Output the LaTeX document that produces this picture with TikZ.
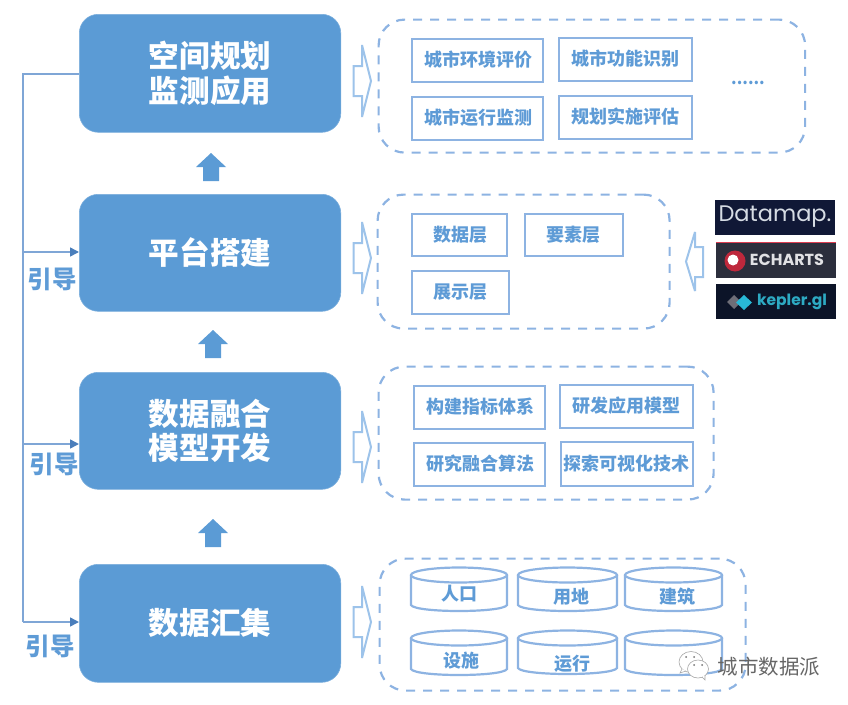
\documentclass[tikz,border=0pt]{standalone}
\usepackage{fontspec}
\setmainfont{Noto Sans CJK SC}
\newfontfamily\lat{Poppins}
\usetikzlibrary{arrows.meta}
\definecolor{mainblue}{HTML}{5B9BD5}
\definecolor{dashblue}{HTML}{8DB3E2}
\definecolor{boxblue}{HTML}{8DB3E2}
\definecolor{hollow}{HTML}{9DC3EA}
\definecolor{trunkblue}{HTML}{7FA6D6}
\definecolor{tipblue}{HTML}{4A7EBB}
\definecolor{textblue}{HTML}{5E9BD6}
\tikzset{
 mainbox/.style={fill=mainblue,draw=mainblue!80!white,line width=.6pt,rounded corners=19pt,text=white,font=\fontsize{30.6}{36}\selectfont\bfseries,align=center,anchor=north west,inner sep=0pt},
 group/.style={draw=dashblue,line width=2.2pt,dash pattern=on 9pt off 8pt,rounded corners=26pt,anchor=north west,inner sep=0pt,xshift=-.5pt,yshift=.5pt},
 item/.style={draw=boxblue,line width=2pt,text=textblue,font=\fontsize{18}{20}\selectfont\bfseries,anchor=north west,inner sep=0pt,align=center,xshift=-.5pt,yshift=.5pt},
 guide/.style={text=textblue,font=\fontsize{24.5}{26}\selectfont\bfseries,inner sep=0pt},
 upa/.style={fill=mainblue,draw=none},
 hol/.style={draw=hollow,line width=2pt,fill=white,line join=miter,miter limit=3},
 trunk/.style={draw=trunkblue,line width=1.5pt},
 lead/.style={draw=trunkblue,line width=1.5pt,-{Triangle[length=9pt,width=9pt,fill=tipblue,color=tipblue]}},
 cyl/.style={draw=boxblue,line width=2.2pt,fill=white},
 cyltext/.style={text=textblue,font=\fontsize{18}{20}\selectfont\bfseries,inner sep=0pt},
 bub/.style={draw=black!35,line width=.6pt,fill=white},
}
\newcommand{\upar}[2]{\fill[upa] (#1-15,#2+14) -- (#1,#2) -- (#1+15,#2+14) -- (#1+8,#2+14) -- (#1+8,#2+28) -- (#1-8,#2+28) -- (#1-8,#2+14) -- cycle;}
\newcommand{\rhol}[1]{\draw[hol] (353.5,#1-15) -- (362,#1-15) -- (362,#1-36) -- (371,#1) -- (362,#1+36) -- (362,#1+15) -- (353.5,#1+15) -- cycle;}
\newcommand{\mycyl}[5]{% x1 x2 y1 y2 name
 \draw[cyl] (#1,#3+8) -- (#1,#4-8) .. controls (#1+4,#4) and (#2-4,#4) .. (#2,#4-8) -- (#2,#3+8);
 \draw[cyl] ({(#1+#2)/2},#3+8) ellipse[x radius={(#2-#1)/2},y radius=7.5];
 \coordinate (#5) at ({(#1+#2)/2},#4);
}
\newcommand{\up}[2]{\raisebox{#1}{#2}}
\begin{document}
\begin{tikzpicture}[x=1pt,y=-1pt]
\useasboundingbox (0,0) rectangle (848,704);
% main boxes
\node[mainbox,minimum width=261.5pt,minimum height=118pt] (A) at (79,14) {空间规划\\[-1.5pt]监测应用};
\node[mainbox,minimum width=261.5pt,minimum height=117pt] (B) at (79,194) {平台搭建};
\node[mainbox,minimum width=261.5pt,minimum height=117pt] (C) at (79,372) {数据融合\\[-1.5pt]模型开发};
\node[mainbox,minimum width=261.5pt,minimum height=118pt] (D) at (79,564) {数据汇集};
% up arrows
\upar{211}{153}
\upar{213}{330}
\upar{213}{519}
% trunk
\coordinate (tt) at (23,74);
\coordinate (tb) at (23,252);
\coordinate (tc) at (23,444);
\coordinate (td) at (23,622);
\draw[trunk] (tt -| A.west) -- (tt) -- (td);
\draw[lead] (tb) -- (tb -| B.west);
\draw[lead] (tc) -- (tc -| C.west);
\draw[lead] (td) -- (td -| D.west);
\node[guide] (g1) at (52,279) {引导};
\node[guide] (g2) at (54,464) {引导};
\node[guide] (g3) at (50,646) {引导};
% groups
\node[group,minimum width=426.5pt,minimum height=133pt] (G1) at (378,19) {};
\node[group,minimum width=292pt,minimum height=134pt] (G2) at (377,194) {};
\node[group,minimum width=335pt,minimum height=133pt] (G3) at (378,366) {};
\node[group,minimum width=366pt,minimum height=132pt] (G4) at (379,558) {};
% hollow arrows
\rhol{81}
\rhol{258}
\rhol{447}
\rhol{622}
\draw[hol] (703,247) -- (695,247) -- (695,232) -- (686,261.5) -- (695,291) -- (695,277) -- (703,277) -- cycle;
% items
\node[item,minimum width=131pt,minimum height=43pt] (i1) at (411,38) {\hspace{3pt}城市环境评价};
\node[item,minimum width=133pt,minimum height=43pt] (i2) at (558,37) {\up{3pt}{城市功能识别}};
\node[item,minimum width=131pt,minimum height=43pt] (i3) at (411,96) {\hspace{3pt}城市运行监测};
\node[item,minimum width=133pt,minimum height=43pt] (i4) at (558,95) {\up{1.5pt}{规划实施评估}};
\node[text=textblue,font=\fontsize{16}{20}\selectfont\bfseries,inner sep=0pt] (dots) at (748,83) {......};
\node[item,minimum width=95pt,minimum height=42pt] (j1) at (411,213) {\hspace{2pt}数据层};
\node[item,minimum width=98pt,minimum height=42pt] (j2) at (524,213) {要素层};
\node[item,minimum width=97pt,minimum height=43pt] (j3) at (411,270) {\up{1pt}{展示层}};
\node[item,minimum width=131pt,minimum height=43pt] (k1) at (413,385) {\hspace{2pt}构建指标体系};
\node[item,minimum width=133pt,minimum height=43pt] (k2) at (559,384) {\up{1.5pt}{研发应用模型}};
\node[item,minimum width=131pt,minimum height=43pt] (k3) at (413,442) {\hspace{2pt}\up{1pt}{研究融合算法}};
\node[item,minimum width=132pt,minimum height=44pt] (k4) at (560,441) {探索可视化技术};
% cylinders
\mycyl{411}{507}{567}{613}{c1}
\mycyl{518}{617}{567}{613}{c2}
\mycyl{625}{722}{567}{613}{c3}
\mycyl{411}{507}{630}{677}{c4}
\mycyl{518}{617}{630}{676}{c5}
\mycyl{625}{722}{630}{677}{c6}
\node[cyltext] (t1) at (459,594) {人口};
\node[cyltext] (t2) at (571,597) {用地};
\node[cyltext] (t3) at (677,597) {建筑};
\node[cyltext] (t4) at (461,661) {设施};
\node[cyltext] (t5) at (572,664) {运行};
% logos
\fill[fill={rgb,255:red,16;green,24;blue,54}] (715,200) rectangle (835,235);
\node[text={rgb,255:red,214;green,220;blue,228},font=\lat\fontsize{22.5}{26}\selectfont,inner sep=0pt] (l1) at (775,217) {Datamap.};
\fill[fill={rgb,255:red,43;green,46;blue,60}] (716,242) rectangle (836,278);
\fill[fill={rgb,255:red,220;green,60;blue,80}] (716,241.5) rectangle (836,243);
\fill[fill={rgb,255:red,190;green,40;blue,60}] (735,261) circle (10.5);
\fill[white] (733,260) circle (5.5);
\node[text={rgb,255:red,225;green,225;blue,228},font=\lat\bfseries\fontsize{16}{16}\selectfont,inner sep=0pt] (l2) at (787,260) {ECHARTS};
\fill[fill={rgb,255:red,12;green,20;blue,40}] (716,284) rectangle (836,319);
\fill[fill={rgb,255:red,110;green,110;blue,120}] (734,295) -- (741,302) -- (734,309) -- (727,302) -- cycle;
\fill[fill={rgb,255:red,40;green,185;blue,215}] (744,295) -- (752,302.5) -- (744,310) -- (736,302.5) -- cycle;
\node[text={rgb,255:red,45;green,170;blue,195},font=\lat\bfseries\fontsize{15.5}{18}\selectfont,inner sep=0pt] (l3) at (792,302) {kepler.gl};
% watermark
\draw[bub] (691,662) ellipse[x radius=12,y radius=10.5];
\draw[bub] (682,669) -- (680,673) -- (686,671);
\draw[bub] (698,669) ellipse[x radius=10.5,y radius=9];
\draw[bub] (702,677) -- (705,680) -- (705,675);
\fill[black!55] (686,657) circle (1) (694,657) circle (1) (694,665) circle (1) (702,665) circle (1);
\node[text=black!60,font=\fontsize{20.5}{22}\selectfont,inner sep=0pt] (wm) at (769,667) {城市数据派};
\end{tikzpicture}
\end{document}
